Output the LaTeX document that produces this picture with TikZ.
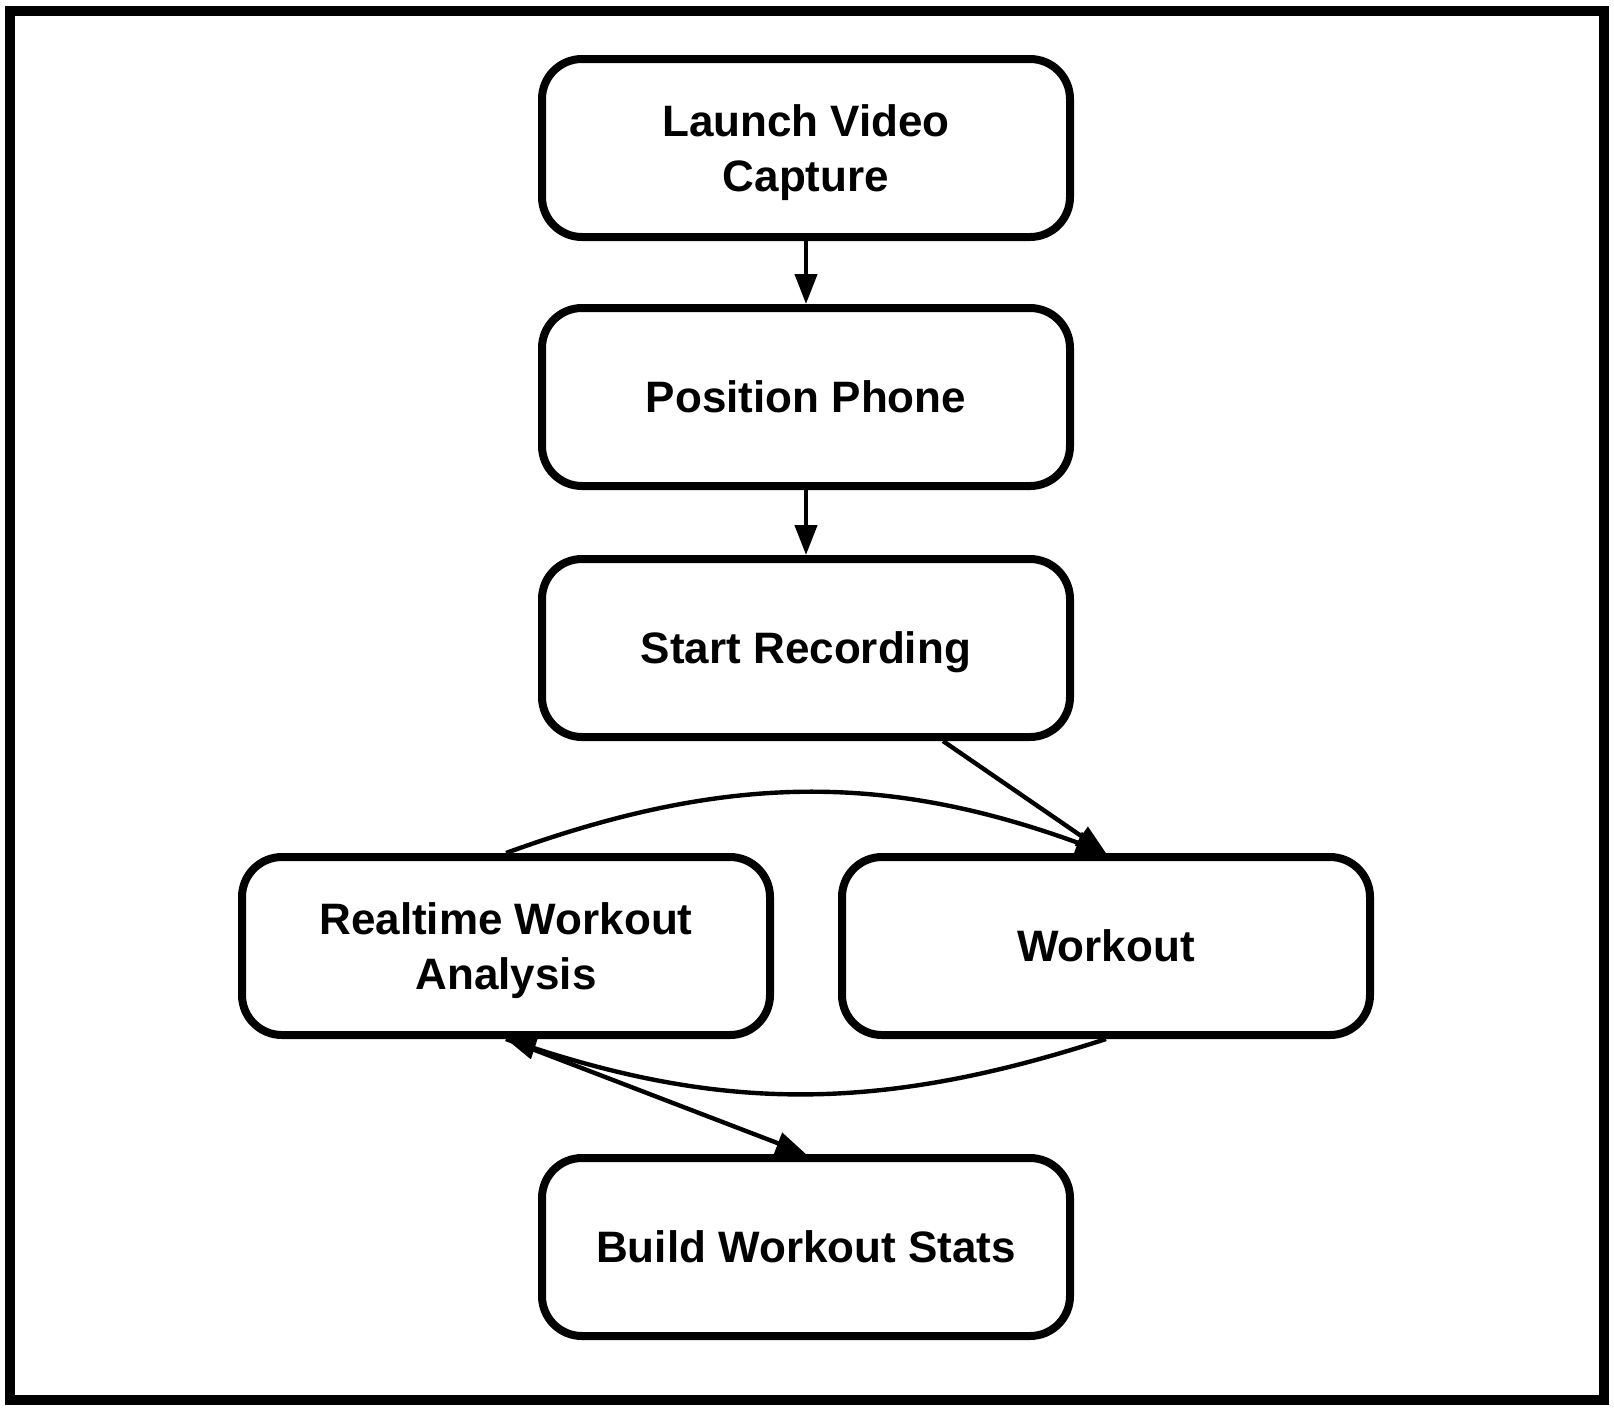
\documentclass[tikz,border=0pt]{standalone}
\usepackage{fontspec}
\setmainfont{Liberation Sans}
\usetikzlibrary{arrows.meta}
\begin{document}
\begin{tikzpicture}[x=0.5pt,y=-0.5pt,
  box/.style={draw, line width=4pt, rounded corners=20pt, minimum width=264pt, minimum height=89pt, align=center, text depth=0pt, font=\fontsize{22}{27.8}\selectfont\bfseries},
  conn/.style={line width=2.2pt, -{Triangle[length=15pt,width=11pt]}}]
\useasboundingbox (0,0) rectangle (1614,1410);
\draw[line width=5pt] (10,11) rectangle (1604,1400);
\node[box] (launch) at (806,148) {Launch Video\\Capture};
\node[box] (pos) at (806,397) {Position Phone};
\node[box] (start) at (806,648) {Start Recording};
\node[box] (real) at (506,946) {Realtime Workout\\Analysis};
\node[box] (work) at (1106,946) {Workout};
\node[box] (build) at (806,1247) {Build Workout Stats};
\draw[conn] (launch) -- (pos);
\draw[conn] (pos) -- (start);
\draw[conn] ([xshift=68.5pt]start.south) -- (work.north);
\draw[conn] (real.north) to[bend left=20] (work.north);
\draw[conn] (work.south) to[bend left=18] (real.south);
\draw[conn] (real.south) -- (build.north);
\end{tikzpicture}
\end{document}
